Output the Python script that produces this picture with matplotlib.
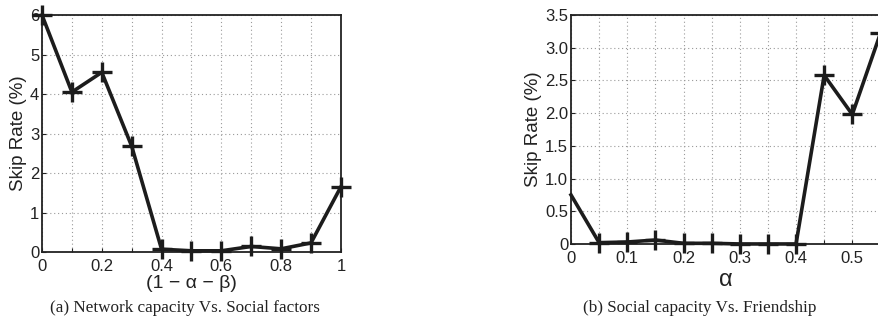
import matplotlib
matplotlib.use("Agg")
import matplotlib.pyplot as plt
from matplotlib.ticker import MultipleLocator

# Panel (a): skip rate vs. weight of network capacity
net_weight = [0.0, 0.1, 0.2, 0.3, 0.4, 0.5, 0.6, 0.7, 0.8, 0.9, 1.0]
net_skip = [6.0, 4.05, 4.55, 2.68, 0.07, 0.03, 0.03, 0.14, 0.08, 0.23, 1.65]

# Panel (b): skip rate vs. friendship weight alpha
alpha = [0.0, 0.05, 0.10, 0.15, 0.20, 0.25, 0.30, 0.35, 0.40, 0.45, 0.50, 0.55]
soc_skip = [0.75, 0.02, 0.03, 0.06, 0.01, 0.01, 0.0, 0.0, 0.0, 2.58, 1.98, 3.22]

left_xticks = [0, 0.2, 0.4, 0.6, 0.8, 1]
left_xlabels = ["0", "0.2", "0.4", "0.6", "0.8", "1"]
left_yticks = [0, 1, 2, 3, 4, 5, 6]
right_xticks = [0, 0.1, 0.2, 0.3, 0.4, 0.5]
right_xlabels = ["0", "0.1", "0.2", "0.3", "0.4", "0.5"]
right_yticks = [0, 0.5, 1.0, 1.5, 2.0, 2.5, 3.0, 3.5]
right_ylabels = ["0", "0.5", "1.0", "1.5", "2.0", "2.5", "3.0", "3.5"]

sans = ["Liberation Sans", "DejaVu Sans"]
serif = ["Liberation Serif", "DejaVu Serif"]
ink = "#222222"
line_color = "#1c1c1c"

fig = plt.figure(figsize=(8.79, 3.21), dpi=100)
ax1 = fig.add_axes([0.0478, 0.215, 0.340, 0.738])
ax2 = fig.add_axes([0.6496, 0.240, 0.352, 0.713])


def style_axes(ax, minor_x, minor_y=None):
    ax.xaxis.set_minor_locator(MultipleLocator(minor_x))
    if minor_y is not None:
        ax.yaxis.set_minor_locator(MultipleLocator(minor_y))
    ax.grid(True, which="both", linestyle=(0, (1, 2.5)), color="#9a9a9a", linewidth=0.8)
    ax.tick_params(which="both", direction="in", length=3, width=0.8, color=ink,
                   labelsize=12, top=False, right=False)
    ax.tick_params(axis="x", which="both", pad=5)
    ax.tick_params(axis="y", which="both", pad=2)
    for s in ax.spines.values():
        s.set_linewidth(1.3)
        s.set_color(ink)
    for lab in ax.get_xticklabels() + ax.get_yticklabels():
        lab.set_family(sans)
        lab.set_color(ink)


# Panel (a)
ax1.plot(net_weight, net_skip, color=line_color, linewidth=2.6, marker="+",
         markersize=15, markeredgewidth=2.4, clip_on=False, zorder=5)
ax1.set_xlim(0, 1)
ax1.set_ylim(0, 6)
ax1.set_xticks(left_xticks)
ax1.set_xticklabels(left_xlabels)
ax1.set_yticks(left_yticks)
style_axes(ax1, 0.1)
ax1.set_ylabel("Skip Rate (%)", family=sans, fontsize=13.5, color=ink, labelpad=2)
ax1.set_xlabel("(1 \u2212 \u03b1 \u2212 \u03b2)", family=sans, fontsize=14, color=ink, labelpad=1)

# Panel (b)
ax2.plot(alpha, soc_skip, color=line_color, linewidth=2.6, zorder=5, clip_on=False)
ax2.plot(alpha[1:], soc_skip[1:], linestyle="none", color=line_color, marker="+",
         markersize=15, markeredgewidth=2.4, clip_on=False, zorder=6)
ax2.set_xlim(0, 0.55)
ax2.set_ylim(0, 3.5)
ax2.set_xticks(right_xticks)
ax2.set_xticklabels(right_xlabels)
ax2.set_yticks(right_yticks)
ax2.set_yticklabels(right_ylabels)
style_axes(ax2, 0.05)
ax2.set_ylabel("Skip Rate (%)", family=sans, fontsize=13.5, color=ink, labelpad=2)
ax2.set_xlabel("\u03b1", family=sans, fontsize=17, color=ink, labelpad=2)

# Sub-figure captions
fig.text(0.21, 0.04, "(a) Network capacity Vs. Social factors", family=serif,
         fontsize=12.3, ha="center", va="center", color=ink)
fig.text(0.796, 0.04, "(b) Social capacity Vs. Friendship", family=serif,
         fontsize=12.3, ha="center", va="center", color=ink)

fig.savefig("out.png", dpi=100)
